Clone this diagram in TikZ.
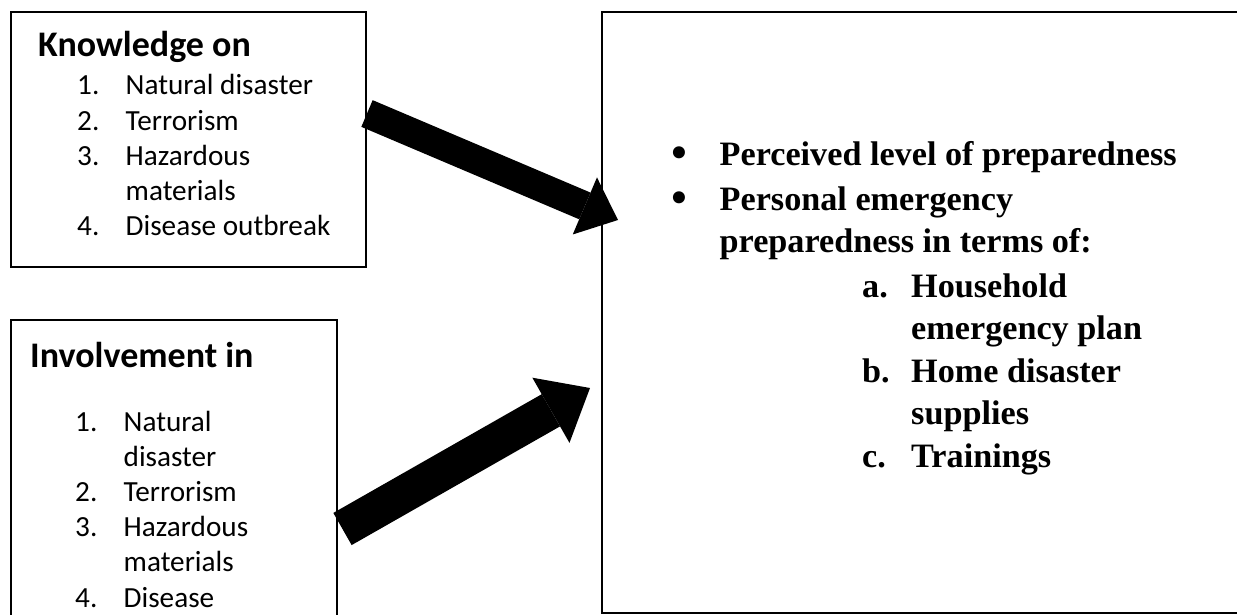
\documentclass[tikz,border=0pt]{standalone}
\usepackage{fontspec}
\setmainfont{Liberation Serif}
\newfontfamily\calibri{Carlito}
\newfontfamily\dotfont{DejaVu Sans}
\usetikzlibrary{arrows.meta,positioning,calc}
\tikzset{
  panel/.style={
    rectangle,
    draw=black,
    line width=2.2pt,
    inner sep=0pt,
    outer sep=0pt
  },
  heading/.style={
    anchor=base west,
    inner sep=0pt,
    font=\calibri\bfseries\fontsize{36}{42}\selectfont
  },
  items/.style={
    anchor=base west,
    inner sep=0pt,
    font=\calibri\fontsize{29.2}{35.2}\selectfont
  },
  outcome/.style={
    anchor=base west,
    inner sep=0pt,
    font=\bfseries\fontsize{34.2}{42.5}\selectfont
  },
  bigarrow/.style={-{Triangle[length=36pt,width=62pt,line width=0pt]},line width=29pt,draw=black}
}
\newcommand{\bigbullet}{\hspace{-3pt}{\dotfont•}}

\begin{document}
\begin{tikzpicture}[x=1pt,y=-1pt]
    \path[use as bounding box,clip] (0,0) rectangle (1237,615);

    \node[panel,anchor=north west,minimum width=355pt,minimum height=255pt] (know) at (11,12) {};
    \node[panel,below=53pt of know.south west,anchor=north west,minimum width=326pt,minimum height=320pt] (inv) {};
    \node[panel,right=236pt of know.north east,anchor=north west,minimum width=650pt,minimum height=601pt] (out) {};

    \node[heading,below right=45pt and 27pt of know.north west,anchor=base west] (knowhead) {Knowledge on};
    \node[items,below right=83pt and 66pt of know.north west,anchor=base west] (knowlist) {%
      \begin{tabular}[t]{@{}p{48.5pt}@{}l@{}}
        1. & Natural disaster\\
        2. & Terrorism\\
        3. & Hazardous\\
           & materials\\
        4. & Disease outbreak
      \end{tabular}};

    \node[heading,below right=47pt and 19pt of inv.north west,anchor=base west] (invhead) {Involvement in};
    \node[items,below right=111pt and 64pt of inv.north west,anchor=base west] (invlist) {%
      \begin{tabular}[t]{@{}p{48.5pt}@{}l@{}}
        1. & Natural\\
           & disaster\\
        2. & Terrorism\\
        3. & Hazardous\\
           & materials\\
        4. & Disease
      \end{tabular}};

    \node[outcome,below right=153pt and 69pt of out.north west,anchor=base west] (outlist) {%
      \begin{tabular}[t]{@{}p{48.5pt}@{}l@{}}
        \bigbullet & Perceived level of preparedness\\[2.5pt]
        \bigbullet & Personal emergency\\
                   & preparedness in terms of:
      \end{tabular}};
    \node[outcome,below right=285pt and 260pt of out.north west,anchor=base west] (sublist) {%
      \begin{tabular}[t]{@{}p{49pt}@{}l@{}}
        a. & Household\\
           & emergency plan\\
        b. & Home disaster\\
           & supplies\\
        c. & Trainings
      \end{tabular}};

    \coordinate (knowtail) at ($(know.north east)+(1,101.5)$);
    \coordinate (knowtip) at ($(out.north west)+(16,208)$);
    \coordinate (invtail) at ($(inv.north east)+(5.5,209)$);
    \coordinate (invtip) at ($(out.north west)+(-12,376)$);

    \draw[bigarrow] (knowtail) -- (knowtip);
    \draw[bigarrow,line width=37pt,-{Triangle[length=45pt,width=75pt,line width=0pt]}] (invtail) -- (invtip);
  \end{tikzpicture}
\end{document}
